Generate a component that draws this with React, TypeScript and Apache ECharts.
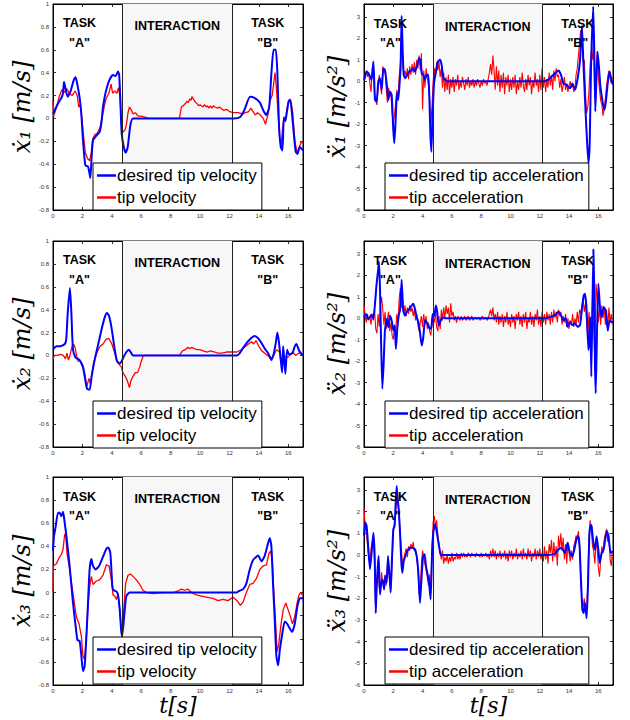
import React, { useEffect, useRef } from "react";
import * as echarts from "echarts";

// ---------- axis / layout constants ----------
const T_MIN = 0;
const T_MAX = 17;
const T_STEP = 2;
const VEL_MIN = -0.8;
const VEL_MAX = 1;
const VEL_STEP = 0.2;
const ACC_MIN = -6;
const ACC_MAX = 3.6;
const ACC_STEP = 1;
const INTERACTION_START = 4.7;
const INTERACTION_END = 12.2;
const ACC_DT = 0.08; // sample step of the measured accelerations

// ---------- velocities [t, v] ----------
const V1_DESIRED: number[][] = [
  [0, 0.04], [0.34, 0.13], [0.57, 0.18], [0.68, 0.22], [0.75, 0.32], [0.82, 0.28], [1.0, 0.19], [1.2, 0.24], [1.4, 0.33], [1.54, 0.36],
  [1.65, 0.3], [1.8, 0.19], [1.92, 0.05], [2.04, -0.19], [2.2, -0.41], [2.38, -0.42], [2.48, -0.48], [2.54, -0.52], [2.63, -0.33], [2.72, -0.19],
  [2.95, -0.15], [3.17, -0.12], [3.3, -0.03], [3.4, 0.1], [3.6, 0.24], [3.85, 0.34], [4.08, 0.38], [4.26, 0.37], [4.42, 0.41], [4.5, 0.38],
  [4.58, 0.16], [4.67, -0.13], [4.81, -0.25], [4.94, -0.3], [5.08, -0.25], [5.26, -0.06], [5.44, 0.0], [12.3, 0.0], [12.7, 0.01], [13.0, 0.07],
  [13.4, 0.19], [13.7, 0.18], [14.06, 0.14], [14.3, 0.07], [14.5, 0.03], [14.7, 0.1], [14.85, 0.39], [15.0, 0.6], [15.15, 0.6], [15.26, 0.39],
  [15.37, -0.07], [15.49, -0.25], [15.6, -0.28], [15.7, 0.01], [15.8, -0.02], [15.92, 0.07], [16.05, 0.16], [16.17, 0.14], [16.33, -0.07], [16.5, -0.29],
  [16.62, -0.31], [16.78, -0.25], [17, -0.28],
];
const V1_ACTUAL: number[][] = [
  [0, 0.15], [0.05, 0.02], [0.2, 0.08], [0.4, 0.18], [0.6, 0.25], [0.8, 0.23], [0.95, 0.26], [1.1, 0.22], [1.3, 0.2], [1.5, 0.24],
  [1.65, 0.2], [1.75, 0.1], [1.85, 0.12], [1.95, 0.02], [2.05, -0.12], [2.2, -0.3], [2.35, -0.35], [2.5, -0.37], [2.6, -0.3], [2.7, -0.18],
  [2.85, -0.14], [3.0, -0.13], [3.2, -0.08], [3.4, 0.05], [3.6, 0.17], [3.8, 0.22], [3.95, 0.3], [4.05, 0.22], [4.2, 0.24], [4.35, 0.22],
  [4.45, 0.27], [4.55, 0.2], [4.65, -0.05], [4.75, -0.12], [4.9, -0.1], [5.0, -0.05], [5.1, 0.05], [5.2, 0.1], [5.3, 0.08], [5.45, 0.04],
  [5.6, 0.05], [5.8, 0.02], [6.0, 0.02], [6.3, 0.01], [6.5, 0.0], [8.6, 0.0], [8.73, 0.1], [8.85, 0.11], [9.0, 0.13], [9.1, 0.15],
  [9.2, 0.14], [9.3, 0.17], [9.4, 0.16], [9.45, 0.19], [9.6, 0.16], [9.7, 0.14], [9.8, 0.13], [9.9, 0.11], [10.0, 0.12], [10.2, 0.1],
  [10.3, 0.12], [10.4, 0.1], [10.5, 0.11], [10.6, 0.09], [10.7, 0.11], [10.8, 0.09], [10.9, 0.11], [11.0, 0.1], [11.2, 0.09], [11.3, 0.1],
  [11.5, 0.08], [11.6, 0.07], [11.8, 0.08], [12.0, 0.06], [12.3, 0.05], [12.6, 0.05], [12.9, 0.04], [13.1, 0.05], [13.3, 0.06], [13.45, 0.09],
  [13.6, 0.06], [13.75, 0.03], [13.9, 0.05], [14.1, 0.03], [14.3, 0.0], [14.45, -0.05], [14.55, 0.0], [14.65, 0.05], [14.75, 0.15], [14.9, 0.2],
  [15.0, 0.3], [15.1, 0.4], [15.2, 0.25], [15.3, 0.05], [15.4, -0.15], [15.5, -0.25], [15.6, -0.1], [15.7, 0.0], [15.8, -0.03], [15.9, 0.08],
  [16.0, 0.15], [16.15, 0.17], [16.3, 0.05], [16.45, -0.2], [16.6, -0.3], [16.75, -0.25], [16.9, -0.2], [17, -0.22],
];
const V2_DESIRED: number[][] = [
  [0, 0.05], [0.23, 0.08], [0.5, 0.08], [0.8, 0.1], [0.9, 0.14], [1.0, 0.37], [1.15, 0.59], [1.25, 0.37], [1.36, 0.05], [1.54, -0.02],
  [1.7, -0.03], [1.86, -0.05], [2.04, -0.1], [2.15, -0.18], [2.31, -0.29], [2.49, -0.3], [2.63, -0.18], [2.83, -0.04], [3.06, 0.09], [3.29, 0.22],
  [3.51, 0.33], [3.67, 0.37], [3.8, 0.35], [3.97, 0.25], [4.2, 0.05], [4.35, -0.05], [4.53, -0.07], [4.67, -0.05], [4.81, -0.01], [4.99, 0.03],
  [5.15, 0.05], [5.28, 0.03], [5.44, 0.0], [12.5, 0.0], [12.7, 0.02], [13.0, 0.08], [13.38, 0.14], [13.72, 0.17], [13.95, 0.15], [14.17, 0.11],
  [14.4, 0.06], [14.63, 0.02], [14.85, -0.04], [15.0, 0.01], [15.15, 0.11], [15.26, 0.2], [15.37, 0.11], [15.49, -0.04], [15.58, -0.15], [15.65, 0.08],
  [15.71, -0.01], [15.8, -0.16], [15.92, 0.05], [16.05, 0.01], [16.28, 0.02], [16.44, 0.08], [16.55, 0.1], [16.71, 0.05], [16.85, 0.02], [17, 0.0],
];
const V2_ACTUAL: number[][] = [
  [0, -0.03], [0.1, 0.0], [0.3, 0.0], [0.5, 0.01], [0.7, 0.0], [0.85, -0.03], [0.95, 0.02], [1.05, -0.04], [1.15, 0.0], [1.3, 0.08],
  [1.4, 0.1], [1.5, 0.07], [1.6, 0.0], [1.7, -0.05], [1.85, -0.05], [2.0, -0.1], [2.15, -0.15], [2.3, -0.27], [2.45, -0.2], [2.55, -0.25],
  [2.65, -0.15], [2.8, -0.05], [3.0, 0.03], [3.2, 0.08], [3.4, 0.1], [3.6, 0.14], [3.8, 0.15], [4.0, 0.1], [4.2, 0.02], [4.35, -0.05],
  [4.5, -0.08], [4.65, -0.1], [4.75, -0.15], [4.9, -0.18], [5.05, -0.22], [5.2, -0.28], [5.3, -0.22], [5.45, -0.18], [5.6, -0.15], [5.75, -0.15],
  [5.9, -0.1], [6.0, -0.05], [6.15, 0.0], [6.5, 0.0], [8.6, 0.0], [8.8, 0.04], [9.0, 0.05], [9.15, 0.07], [9.3, 0.06], [9.45, 0.07],
  [9.6, 0.06], [9.8, 0.05], [10.0, 0.05], [10.2, 0.04], [10.5, 0.03], [10.7, 0.04], [11.0, 0.03], [11.2, 0.02], [11.5, 0.02], [11.8, 0.03],
  [12.0, 0.03], [12.5, 0.03], [12.8, 0.05], [13.0, 0.07], [13.3, 0.1], [13.5, 0.12], [13.65, 0.1], [13.8, 0.13], [14.0, 0.08], [14.2, 0.04],
  [14.4, 0.02], [14.6, 0.0], [14.8, -0.03], [15.0, 0.0], [15.2, 0.05], [15.4, 0.03], [15.5, -0.05], [15.7, 0.0], [15.9, -0.02], [16.1, 0.0],
  [16.3, 0.03], [16.5, 0.0], [16.7, 0.02], [16.9, 0.02], [17, 0.0],
];
const V3_DESIRED: number[][] = [
  [0, 0.36], [0.07, 0.49], [0.18, 0.57], [0.34, 0.69], [0.45, 0.69], [0.57, 0.66], [0.68, 0.7], [0.77, 0.63], [0.91, 0.49], [1.13, 0.23],
  [1.36, -0.09], [1.54, -0.29], [1.66, -0.41], [1.81, -0.42], [1.93, -0.55], [2.04, -0.68], [2.15, -0.64], [2.27, -0.38], [2.38, -0.09], [2.49, 0.2],
  [2.61, 0.29], [2.72, 0.23], [2.9, 0.2], [3.13, 0.23], [3.4, 0.31], [3.63, 0.38], [3.76, 0.39], [3.9, 0.34], [4.04, 0.05], [4.13, 0.02],
  [4.31, 0.01], [4.42, -0.02], [4.54, -0.15], [4.63, -0.32], [4.69, -0.38], [4.78, -0.29], [4.88, -0.15], [4.99, -0.03], [5.22, 0.0], [12.5, 0.0],
  [12.6, 0.01], [12.93, 0.03], [13.15, 0.08], [13.38, 0.2], [13.6, 0.28], [13.95, 0.32], [14.17, 0.27], [14.4, 0.32], [14.63, 0.43], [14.74, 0.47],
  [14.85, 0.4], [14.97, 0.05], [15.08, -0.24], [15.19, -0.55], [15.31, -0.63], [15.42, -0.5], [15.6, -0.35], [15.76, -0.25], [15.92, -0.27], [16.1, -0.31],
  [16.26, -0.34], [16.44, -0.27], [16.62, -0.12], [16.78, -0.05], [17, -0.05],
];
const V3_ACTUAL: number[][] = [
  [0, 0.0], [0.02, 0.23], [0.23, 0.25], [0.41, 0.3], [0.57, 0.33], [0.68, 0.37], [0.79, 0.5], [0.86, 0.51], [0.95, 0.34], [1.13, 0.2],
  [1.36, -0.01], [1.59, -0.21], [1.77, -0.27], [1.93, -0.38], [2.04, -0.55], [2.15, -0.58], [2.27, -0.38], [2.38, -0.12], [2.49, 0.05], [2.61, 0.14],
  [2.72, 0.07], [2.95, 0.1], [3.17, 0.11], [3.4, 0.15], [3.63, 0.24], [3.81, 0.23], [3.97, 0.11], [4.08, -0.02], [4.2, -0.03], [4.31, -0.06],
  [4.42, -0.01], [4.54, -0.15], [4.63, -0.29], [4.69, -0.38], [4.81, -0.15], [4.94, 0.08], [5.1, 0.15], [5.26, 0.16], [5.44, 0.14], [5.67, 0.11],
  [5.9, 0.07], [6.12, 0.02], [6.35, 0.0], [6.8, -0.01], [7.5, 0.0], [8.2, 0.0], [8.6, 0.02], [8.73, 0.03], [8.96, 0.02], [9.18, 0.03],
  [9.41, 0.0], [9.75, -0.02], [10.09, -0.03], [10.43, -0.04], [10.88, -0.05], [11.22, -0.07], [11.56, -0.06], [11.9, -0.07], [12.24, -0.04], [12.52, -0.07],
  [12.74, -0.11], [12.93, -0.08], [13.15, 0.0], [13.38, 0.07], [13.6, 0.08], [13.83, 0.12], [14.06, 0.2], [14.29, 0.23], [14.51, 0.24], [14.69, 0.34],
  [14.81, 0.36], [14.92, 0.26], [15.03, -0.03], [15.15, -0.29], [15.24, -0.51], [15.35, -0.45], [15.49, -0.29], [15.65, -0.15], [15.83, -0.09], [15.99, -0.15],
  [16.15, -0.21], [16.28, -0.27], [16.44, -0.21], [16.6, -0.09], [16.73, -0.02], [16.85, 0.0], [17, -0.03],
];

// ---------- desired accelerations [t, a] ----------
const A1_DESIRED: number[][] = [
  [0, 0.06], [0.18, 0.45], [0.36, 0.3], [0.52, 0.06], [0.64, 0.92], [0.75, -0.87], [0.86, -0.95], [0.98, 0.0], [1.09, 0.14], [1.21, -0.4],
  [1.32, 0.6], [1.43, 0.53], [1.55, -0.1], [1.66, -0.87], [1.77, -0.48], [1.89, -0.64], [2.0, -2.27], [2.07, -2.89], [2.16, -1.8], [2.25, -0.56],
  [2.34, -0.87], [2.43, -0.1], [2.5, 0.68], [2.57, 3.05], [2.64, 1.46], [2.71, 0.3], [2.82, 0.14], [2.96, 0.3], [3.09, 0.45], [3.23, 0.5],
  [3.37, 0.61], [3.48, 0.45], [3.64, 0.76], [3.75, 1.07], [3.85, 1.0], [3.94, 0.37], [4.05, 0.3], [4.16, 0.06], [4.28, 0.3], [4.39, 0.3],
  [4.46, -0.72], [4.53, -2.43], [4.6, -3.28], [4.69, -1.49], [4.78, -0.1], [4.91, 0.45], [5.05, 0.92], [5.19, 1.0], [5.3, 0.76], [5.42, 0.14],
  [5.55, 0.06], [5.7, 0.0], [12.3, 0.0], [12.6, 0.09], [12.93, 0.3], [13.27, 0.5], [13.45, 0.3], [13.61, -0.1], [13.84, -0.17], [14.06, -0.33],
  [14.22, -0.1], [14.41, -0.4], [14.59, 0.14], [14.75, 1.0], [14.88, 2.6], [14.97, 1.0], [15.09, -0.87], [15.2, -2.43], [15.32, -3.82], [15.41, -2.89],
  [15.5, 0.68], [15.65, 3.48], [15.72, 1.46], [15.79, -1.41], [15.86, -0.1], [15.95, 1.38], [16.04, 0.68], [16.14, -0.25], [16.27, -0.87], [16.39, -1.34],
  [16.5, -1.03], [16.64, -0.1], [16.77, 0.45], [16.89, 0.06], [17, -0.17],
];
const A2_DESIRED: number[][] = [
  [0, 0.05], [0.14, 0.2], [0.27, -0.03], [0.41, 0.05], [0.52, 0.17], [0.64, -0.03], [0.75, 0.67], [0.86, 1.6], [0.96, 2.22], [1.02, 2.65],
  [1.09, 1.44], [1.16, -0.88], [1.25, -3.29], [1.34, -2.12], [1.43, -0.57], [1.55, -0.03], [1.66, -0.42], [1.77, 0.12], [1.89, -0.11], [2.0, -0.57],
  [2.09, -0.34], [2.18, -1.43], [2.28, -0.42], [2.39, 0.2], [2.46, 0.36], [2.57, 1.8], [2.63, 0.98], [2.68, 0.36], [2.8, 0.12], [2.91, 0.28],
  [3.09, 0.43], [3.25, 0.59], [3.37, 0.67], [3.48, 0.43], [3.6, 0.05], [3.71, -0.19], [3.82, -0.65], [3.94, -1.27], [4.05, -0.88], [4.16, -0.11],
  [4.28, -0.19], [4.39, -0.34], [4.5, -0.5], [4.6, -0.42], [4.69, 0.2], [4.8, 0.12], [4.91, 0.59], [5.0, 0.28], [5.1, -0.34], [5.23, -0.11],
  [5.37, 0.05], [5.53, 0.0], [12.3, 0.0], [12.58, 0.03], [13.04, 0.14], [13.27, 0.3], [13.45, 0.14], [13.61, -0.1], [13.77, 0.0], [13.9, -0.4],
  [14.06, -0.17], [14.22, -0.32], [14.41, -0.25], [14.59, -0.4], [14.75, -0.32], [14.86, 0.3], [15.0, 1.07], [15.09, 1.14], [15.2, 0.37], [15.32, -1.48],
  [15.39, -1.02], [15.45, 0.06], [15.52, -2.72], [15.66, 3.2], [15.72, 1.3], [15.77, -2.1], [15.82, -3.5], [15.91, -0.56], [16.0, 1.61], [16.11, 0.53],
  [16.23, 0.06], [16.36, 0.53], [16.5, 0.37], [16.64, -0.56], [16.77, -0.1], [16.89, -0.17], [17, -0.17],
];
const A3_DESIRED: number[][] = [
  [0, 0.88], [0.09, 1.5], [0.18, 1.34], [0.3, 0.26], [0.41, -0.66], [0.52, 0.11], [0.64, 1.03], [0.73, -0.05], [0.8, -2.67], [0.86, -1.59],
  [0.93, -0.66], [1.0, -0.05], [1.09, -1.82], [1.18, -1.28], [1.27, -1.13], [1.37, -1.59], [1.46, -0.97], [1.55, -1.28], [1.64, -0.05], [1.73, -0.82],
  [1.82, -1.74], [1.91, -0.2], [2.0, 1.19], [2.09, 1.34], [2.16, 2.35], [2.23, 3.19], [2.3, 2.58], [2.37, 2.11], [2.46, 1.03], [2.55, -0.35],
  [2.62, -0.82], [2.71, -0.28], [2.82, -0.05], [2.96, 0.19], [3.14, 0.34], [3.32, 0.34], [3.48, 0.23], [3.6, -0.05], [3.71, -0.82], [3.82, -2.21],
  [3.91, -1.28], [4.03, -0.05], [4.14, 0.03], [4.23, -0.51], [4.32, -0.82], [4.44, -1.28], [4.55, -2.05], [4.64, -0.05], [4.73, 1.03], [4.85, 1.42],
  [4.96, 1.11], [5.1, 0.49], [5.23, 0.03], [5.42, 0.0], [12.3, 0.0], [12.58, 0.0], [13.04, 0.06], [13.27, 0.25], [13.5, 0.32], [13.72, 0.09],
  [13.9, 0.56], [14.06, 0.09], [14.22, -0.06], [14.36, 0.25], [14.5, 0.71], [14.63, 0.86], [14.72, 0.4], [14.81, -1.14], [14.91, -2.53], [15.0, -2.68],
  [15.09, -2.22], [15.2, -2.92], [15.29, -1.45], [15.38, 0.86], [15.47, 1.4], [15.54, 1.33], [15.66, 0.56], [15.77, 0.25], [15.88, 0.86], [16.0, 0.25],
  [16.09, -0.37], [16.23, 0.09], [16.36, 0.25], [16.5, 0.86], [16.61, 1.1], [16.73, 0.63], [16.84, 0.09], [17, 0.17],
];

// ---------- measured accelerations, one value every ACC_DT seconds ----------
const A1_ACTUAL: number[] = [
  0.3, 0.1, 0.5, 0.2, 0.4, -0.1, -0.5, 0.6, 0.7, -0.6, -0.9, -1.1, -0.3, 0.3, -0.2, -0.6, 0.7, 0.4, 0.5, -0.4,
  -1.0, -0.3, -0.7, -0.6, -1.5, -1.9, -1.6, -1.0, -0.4, -0.8, 0.2, 0.8, 1.9, 0.9, 0.3, 0.5, 0.2, 0.6, 0.1, 0.7,
  0.3, 0.8, 0.4, 0.9, 0.3, 1.0, 0.6, 1.2, 0.5, 1.3, -1.3, 0.5, -0.3, 0.6, 0.2, -0.2, -0.8, -2.0, -1.2, 0.0,
  0.6, 0.2, 0.9, 0.5, 0.9, 0.2, 0.6, -0.3, 0.4, -0.5, 0.2, -0.4, 0.3, -0.6, 0.1, -0.3, 0.2, -0.5, 0.1, -0.2,
  0.3, -0.4, 0.0, -0.3, 0.2, -0.1, -0.4, 0.1, -0.2, 0.2, -0.3, 0.0, -0.2, 0.1, -0.3, 0.0, -0.2, 0.1, -0.1, -0.3,
  0.0, -0.2, 0.1, -0.1, 0.0, -0.2, 0.1, 0.4, 0.8, 0.3, 1.2, 0.5, -0.4, 0.7, -0.2, 0.5, -0.5, 0.3, -0.3, 0.4,
  -0.6, 0.2, -0.2, 0.3, -0.5, 0.1, -0.4, 0.2, -0.3, 0.3, -0.6, 0.0, -0.4, 0.2, -0.3, 0.4, -0.2, -0.5, 0.1, -0.4,
  0.3, -0.2, 0.2, -0.6, 0.0, -0.3, 0.4, -0.2, 0.1, -0.5, 0.3, -0.4, 0.6, -0.3, 0.2, -0.5, 0.1, -0.3, 0.4, -0.2,
  0.3, -0.4, 0.5, 0.0, 0.6, 0.2, 0.3, -0.3, 0.1, -0.5, -0.2, 0.2, -0.4, -0.1, -0.5, -0.2, 0.0, -0.3, -0.1, -0.5,
  -0.3, 0.3, 0.6, 1.2, 1.8, 2.4, 1.9, 0.9, 1.0, -0.5, -1.5, -1.2, -0.4, 0.8, 1.4, 1.0, 1.9, -0.8, 0.5, 1.4,
  0.2, -0.4, -0.9, -1.1, -1.6, -1.3, -0.8, -0.2, 0.2, 0.5, 0.3, -0.1, 0.2,
];
const A2_ACTUAL: number[] = [
  0.6, 0.1, -0.2, 0.2, -0.1, 0.1, -0.3, 0.2, -0.1, 0.4, -0.5, -0.7, 0.2, -0.4, 0.6, 1.0, 0.4, -0.3, 0.3, -0.5,
  0.0, 0.3, -0.6, -0.2, -0.8, -1.0, -0.3, -0.7, 0.2, -0.2, 0.9, 1.4, 0.5, 0.8, 0.2, 0.6, 0.1, 0.5, 0.2, 0.6,
  0.3, 0.5, 0.1, 0.4, -0.1, 0.2, -0.3, -0.6, -0.2, 0.1, -0.4, 0.2, -0.3, 0.1, -0.5, -0.2, -0.6, -0.8, -0.3, 0.1,
  -0.2, 0.3, -0.4, -0.6, 0.1, -0.5, 0.4, -0.1, 0.5, 0.0, 0.6, 0.2, 0.5, -0.2, 0.7, 0.1, 0.3, -0.1, 0.1, -0.2,
  0.1, 0.0, -0.1, 0.1, -0.1, 0.0, 0.1, -0.1, 0.0, 0.1, -0.1, 0.0, 0.1, -0.1, 0.0, 0.05, -0.05, 0.0, 0.05, -0.1,
  0.0, 0.1, -0.05, 0.0, 0.05, -0.1, 0.0, 0.2, 0.4, 0.1, 0.5, -0.1, 0.2, -0.2, 0.3, -0.3, 0.1, -0.2, 0.2, -0.4,
  0.1, -0.2, 0.3, -0.3, 0.0, -0.4, 0.2, -0.2, 0.1, -0.5, 0.2, -0.1, 0.3, -0.3, 0.1, -0.4, 0.2, -0.2, 0.3, -0.5,
  0.0, -0.2, 0.3, -0.3, 0.1, -0.4, 0.2, -0.1, 0.4, -0.3, 0.1, -0.4, 0.3, -0.2, 0.2, -0.3, 0.3, -0.1, 0.2, -0.3,
  0.3, -0.2, 0.4, 0.0, 0.3, -0.2, 0.4, 0.1, 0.3, -0.3, 0.1, -0.2, 0.2, -0.4, 0.0, -0.5, -0.1, -0.3, 0.2, -0.4,
  0.0, -0.3, 0.3, -0.2, 0.4, 0.2, 0.6, 0.9, 0.3, 0.7, -0.2, -0.9, 0.3, -0.5, -1.2, 0.8, -0.4, -2.0, 1.6, 0.9,
  -0.2, 0.5, -0.3, 0.6, 0.0, 0.5, -0.3, 0.4, -0.6, 0.5, -0.2, 0.2, -0.3,
];
const A3_ACTUAL: number[] = [
  2.2, 1.3, 1.0, 0.5, -0.2, -0.4, 0.3, 0.6, 0.9, -0.5, -2.7, -1.2, -0.3, -1.5, -1.6, -0.8, -1.3, -1.2, -0.9, -1.4,
  -0.4, -0.6, -1.3, -1.6, -0.2, 1.0, 1.5, 2.0, 2.6, 2.4, 1.8, 0.9, 0.2, -0.5, -0.2, 0.1, 0.3, -0.1, 0.4, 0.2,
  0.5, 0.3, 0.6, 0.2, 0.3, -0.2, -0.6, -1.8, -1.5, -0.4, 0.2, -0.1, -0.4, -0.7, -1.0, -1.4, -0.9, -1.6, 0.2, 1.5,
  1.8, 1.3, 1.6, 0.9, 0.5, 0.1, -0.2, 0.2, -0.4, -0.1, -0.3, 0.0, -0.4, -0.1, -0.3, 0.1, -0.3, -0.1, -0.2, 0.1,
  -0.2, 0.0, -0.2, 0.1, -0.1, 0.1, -0.1, 0.0, -0.1, 0.1, 0.0, -0.1, 0.1, -0.05, 0.05, -0.1, 0.1, -0.05, 0.0, -0.1,
  0.1, -0.1, 0.05, -0.05, 0.1, -0.1, 0.05, -0.2, 0.2, -0.1, 0.3, -0.1, 0.2, -0.2, 0.1, -0.1, 0.2, -0.2, 0.1, -0.1,
  0.2, -0.2, 0.1, -0.3, 0.2, -0.1, 0.2, -0.2, 0.1, -0.1, 0.3, -0.2, 0.1, -0.1, 0.2, -0.2, 0.3, -0.1, 0.1, -0.2,
  0.3, -0.1, 0.2, -0.3, 0.1, -0.1, 0.3, -0.2, 0.2, -0.1, 0.3, -0.2, 0.1, -0.3, 0.4, -0.2, 0.2, -0.4, 0.5, 0.1,
  0.7, -0.3, 0.6, -0.1, 0.4, -0.5, 0.9, 0.3, 1.0, 0.2, 0.8, -0.2, 0.5, -0.4, 0.6, 0.1, -0.3, 0.2, -0.2, 0.4,
  0.6, 0.9, 0.8, 1.1, 0.3, -1.0, -2.2, -2.4, -2.0, -2.6, -2.7, -1.2, 0.8, 1.6, 1.2, 0.4, 0.2, -0.4, 0.6, 0.3,
  -0.6, -1.0, -0.2, 0.4, 0.1, 0.7, 1.0, 1.2, 0.6, 1.0, -0.2, -0.5, 0.2,
];

// ---------- labels ----------
const VEL_DESIRED_NAME = "desired tip velocity";
const VEL_ACTUAL_NAME = "tip velocity";
const ACC_DESIRED_NAME = "desired tip acceleration";
const ACC_ACTUAL_NAME = "tip acceleration";
const VEL_Y_NAMES = ["ẋ₁ [m/s]", "ẋ₂ [m/s]", "ẋ₃ [m/s]"];
const ACC_Y_NAMES = ["ẍ₁ [m/s²]", "ẍ₂ [m/s²]", "ẍ₃ [m/s²]"];
const X_NAME = "t[s]";

const toPairs = (vals: number[]) => vals.map((v, i) => [+(i * ACC_DT).toFixed(2), v]);

const panels = [
  { row: 0, col: 0, kind: "vel", desired: V1_DESIRED, actual: V1_ACTUAL, yName: VEL_Y_NAMES[0] },
  { row: 0, col: 1, kind: "acc", desired: A1_DESIRED, actual: toPairs(A1_ACTUAL), yName: ACC_Y_NAMES[0] },
  { row: 1, col: 0, kind: "vel", desired: V2_DESIRED, actual: V2_ACTUAL, yName: VEL_Y_NAMES[1] },
  { row: 1, col: 1, kind: "acc", desired: A2_DESIRED, actual: toPairs(A2_ACTUAL), yName: ACC_Y_NAMES[1] },
  { row: 2, col: 0, kind: "vel", desired: V3_DESIRED, actual: V3_ACTUAL, yName: VEL_Y_NAMES[2] },
  { row: 2, col: 1, kind: "acc", desired: A3_DESIRED, actual: toPairs(A3_ACTUAL), yName: ACC_Y_NAMES[2] },
];

const GRID_LEFT = [53, 364];
const GRID_WIDTH = [250, 249];
const GRID_TOP = [4, 241, 477];
const GRID_HEIGHT = [206, 206, 208];
const LEGEND_LEFT = [93, 385];
const LEGEND_TOP = [163, 401, 637];

const TICK_FONT = { fontSize: 6, color: "#333", fontFamily: "Liberation Sans, Arial, sans-serif" };
const MATH_FONT = { fontFamily: "DejaVu Serif, serif", fontStyle: "italic" as const, color: "#000" };

function buildOption() {
  const grid: any[] = [];
  const xAxis: any[] = [];
  const yAxis: any[] = [];
  const series: any[] = [];
  const legend: any[] = [];

  panels.forEach((p, k) => {
    const isVel = p.kind === "vel";
    grid.push({
      left: GRID_LEFT[p.col],
      top: GRID_TOP[p.row],
      width: GRID_WIDTH[p.col],
      height: GRID_HEIGHT[p.row],
      show: true,
      borderColor: "#000",
      borderWidth: 1,
      backgroundColor: "transparent",
    });
    const axisLine = { show: true, onZero: false, lineStyle: { color: "#000", width: 1 } };
    const tick = { show: true, inside: true, length: 3, lineStyle: { color: "#000", width: 0.8 } };
    xAxis.push({
      type: "value",
      gridIndex: k,
      min: T_MIN,
      max: T_MAX,
      interval: T_STEP,
      axisLine,
      axisTick: tick,
      splitLine: { show: false },
      axisLabel: { ...TICK_FONT, margin: 3, showMaxLabel: false },
      name: p.row === 2 ? X_NAME : "",
      nameLocation: "middle",
      nameGap: 4,
      nameTextStyle: { ...MATH_FONT, fontSize: 22, verticalAlign: "top" },
    });
    xAxis.push({
      type: "value",
      gridIndex: k,
      position: "top",
      min: T_MIN,
      max: T_MAX,
      interval: T_STEP,
      axisLine,
      axisTick: tick,
      splitLine: { show: false },
      axisLabel: { show: false },
    });
    yAxis.push({
      type: "value",
      gridIndex: k,
      min: isVel ? VEL_MIN : ACC_MIN,
      max: isVel ? VEL_MAX : ACC_MAX,
      interval: isVel ? VEL_STEP : ACC_STEP,
      axisLine,
      axisTick: tick,
      splitLine: { show: false },
      axisLabel: { ...TICK_FONT, margin: 4, showMaxLabel: isVel },
      name: p.yName,
      nameLocation: "middle",
      nameRotate: 90,
      nameGap: isVel ? 19 : 15,
      nameTextStyle: { ...MATH_FONT, fontSize: 24 },
    });
    yAxis.push({
      type: "value",
      gridIndex: k,
      position: "right",
      min: isVel ? VEL_MIN : ACC_MIN,
      max: isVel ? VEL_MAX : ACC_MAX,
      interval: isVel ? VEL_STEP : ACC_STEP,
      axisLine,
      axisTick: tick,
      splitLine: { show: false },
      axisLabel: { show: false },
    });

    const yTask = isVel ? 0.83 : 2.68;
    const yQuote = isVel ? 0.66 : 1.78;
    const yInter = isVel ? 0.81 : 2.55;
    const labelStyle = {
      show: true,
      position: "inside",
      formatter: "{b}",
      fontFamily: "Liberation Sans, Arial, sans-serif",
      fontWeight: "bold",
      fontSize: 12.5,
      color: "#000",
    };

    series.push({
      type: "line",
      xAxisIndex: 2 * k,
      yAxisIndex: 2 * k,
      data: [[0, 0]],
      symbol: "none",
      lineStyle: { opacity: 0 },
      silent: true,
      z: 1,
      markArea: {
        silent: true,
        itemStyle: { color: "#f7f7f7" },
        data: [[{ xAxis: INTERACTION_START }, { xAxis: INTERACTION_END }]],
      },
      markLine: {
        silent: true,
        symbol: ["none", "none"],
        label: { show: false },
        lineStyle: { color: "#222", width: 1, type: "solid" },
        data: [{ xAxis: INTERACTION_START }, { xAxis: INTERACTION_END }],
      },
      markPoint: {
        silent: true,
        symbol: "circle",
        symbolSize: 1,
        itemStyle: { color: "rgba(0,0,0,0)" },
        label: labelStyle,
        data: [
          { name: "TASK", coord: [1.8, yTask] },
          { name: '"A"', coord: [1.8, yQuote] },
          { name: "INTERACTION", coord: [8.45, yInter] },
          { name: "TASK", coord: [14.6, yTask] },
          { name: '"B"', coord: [14.6, yQuote] },
        ],
      },
    });
    const dName = isVel ? VEL_DESIRED_NAME : ACC_DESIRED_NAME;
    const aName = isVel ? VEL_ACTUAL_NAME : ACC_ACTUAL_NAME;
    series.push({
      name: aName,
      type: "line",
      xAxisIndex: 2 * k,
      yAxisIndex: 2 * k,
      data: p.actual,
      showSymbol: false,
      symbol: "none",
      lineStyle: { color: "#ff0000", width: isVel ? 1.3 : 1.1 },
      itemStyle: { color: "#ff0000" },
      z: 2,
    });
    series.push({
      name: dName,
      type: "line",
      xAxisIndex: 2 * k,
      yAxisIndex: 2 * k,
      data: p.desired,
      showSymbol: false,
      symbol: "none",
      smooth: isVel ? 0.2 : 0.15,
      lineStyle: { color: "#0000ff", width: 2 },
      itemStyle: { color: "#0000ff" },
      z: 3,
    });
    legend.push({
      left: LEGEND_LEFT[p.col],
      top: LEGEND_TOP[p.row],
      orient: "vertical",
      icon: "rect",
      itemWidth: 19,
      itemHeight: 2.5,
      itemGap: 5,
      padding: [4, 5, 4, 4],
      borderColor: "#000",
      borderWidth: 1,
      borderRadius: 0,
      backgroundColor: "#fff",
      selectedMode: false,
      z: 10,
      textStyle: { fontSize: 17, color: "#000", fontFamily: "Liberation Sans, Arial, sans-serif", padding: [0, 0, 0, -4] },
      data: [dName, aName],
    });
  });

  return { animation: false, backgroundColor: "#fff", grid, xAxis, yAxis, series, legend };
}

export default function App() {
  const ref = useRef<HTMLDivElement>(null);
  useEffect(() => {
    if (!ref.current) return;
    const chart = echarts.init(ref.current, undefined, { renderer: "svg" });
    chart.setOption(buildOption() as any);
    return () => chart.dispose();
  }, []);
  return (
    <div
      ref={ref}
      style={{ position: "fixed", left: 0, top: 0, width: 630, height: 720, background: "#fff" }}
    />
  );
}
